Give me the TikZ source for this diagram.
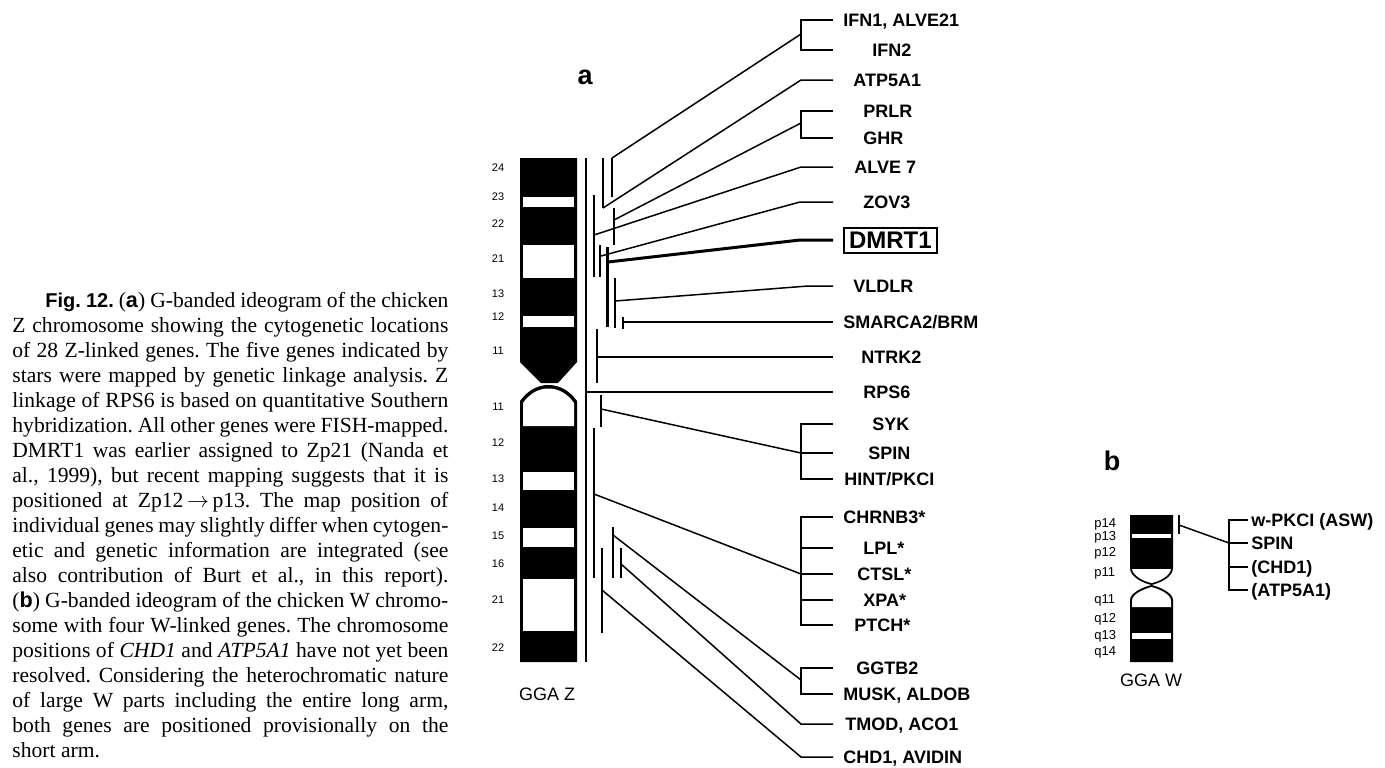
\documentclass[tikz,border=0pt]{standalone}
\usepackage{fontspec}
\setmainfont{Liberation Serif}
\setsansfont{Liberation Sans}
\frenchspacing

\newcommand{\capline}[1]{\hbox to 218pt{#1}}

\tikzset{
	gene/.style={font=\sffamily\bfseries\fontsize{9}{10}\selectfont, inner sep=0pt, anchor=west, text height=6.4pt, text depth=0pt},
	band/.style={font=\sffamily\fontsize{5.5}{6}\selectfont, inner sep=0pt},
	wband/.style={font=\sffamily\fontsize{6.5}{7}\selectfont, inner sep=0pt, anchor=west},
	chrom/.style={font=\sffamily\fontsize{9}{10}\selectfont, inner sep=0pt},
	panel/.style={font=\sffamily\bfseries\fontsize{13.5}{14}\selectfont, inner sep=0pt},
	link/.style={line width=.75pt},
}

\begin{document}
\begin{tikzpicture}[x=.5pt, y=-.5pt]
	\useasboundingbox (0,0) rectangle (1385,767);

	\node[anchor=base west, inner sep=0pt, font=\fontsize{10.8}{12.5}\selectfont] (caption) at (12,307) {\vtop{%
		\capline{\hskip16.5pt{\sffamily\bfseries\fontsize{10}{12.5}\selectfont Fig. 12.} (\textsf{\textbf{a}}) G-banded ideogram of the chicken}
		\capline{Z chromosome showing the cytogenetic locations}
		\capline{of 28 Z-linked genes. The five genes indicated by}
		\capline{stars were mapped by genetic linkage analysis. Z}
		\capline{linkage of RPS6 is based on quantitative Southern}
		\capline{hybridization. All other genes were FISH-mapped.}
		\capline{DMRT1 was earlier assigned to Zp21 (Nanda et}
		\capline{al., 1999), but recent mapping suggests that it is}
		\capline{positioned at Zp12\,$\rightarrow$\,p13. The map position of}
		\capline{individual genes may slightly differ when cytogen-}
		\capline{etic and genetic information are integrated (see}
		\capline{also contribution of Burt et al., in this report).}
		\capline{(\textsf{\textbf{b}}) G-banded ideogram of the chicken W chromo-}
		\capline{some with four W-linked genes. The chromosome}
		\capline{positions of \textit{CHD1} and \textit{ATP5A1} have not yet been}
		\capline{resolved. Considering the heterochromatic nature}
		\capline{of large W parts including the entire long arm,}
		\capline{both genes are positioned provisionally on the}
		\hbox{short arm.}}};

	% chromosome Z
	\node[panel] (pa) at (585,77) {a};
	\fill (520,158) -- (577,158) -- (577,362) -- (558,383) -- (541,383) -- (520,362) -- cycle;
	\fill (520,662) -- (520,401) .. controls (528,390) and (538,385) .. (548.5,385)
		.. controls (559,385) and (569,390) .. (577,401) -- (577,662) -- cycle;
	\foreach \top/\bot in {197/207, 245/278, 316/327, 472/490, 528/547, 579/631}
		\fill[white] (523,\top) rectangle (574,\bot);
	\fill[white] (523,426) -- (523,403) .. controls (530,393) and (539,388.5) .. (548.5,388.5)
		.. controls (558,388.5) and (567,393) .. (574,403) -- (574,426) -- cycle;
	\foreach \lab/\y [count=\i] in {24/168, 23/197, 22/224, 21/259, 13/294, 12/317, 11/351,
			11/407, 12/443, 13/479, 14/508, 15/536, 16/564, 21/600, 22/648}
		\node[band] (z\i) at (498,\y) {\lab};
	\node[chrom] (ggaz) at (547,694) {GGA Z};

	% gene positions along Z
	\draw[link] (586,158) -- (586,662);
	\foreach \x/\top/\bot in {612/158/197, 603/158/208, 614/208/245, 594/195/277, 600/245/277,
			615/278/328, 623/317/329, 597/329/383, 601/395/427, 594/428/578, 613/527/578,
			621/548/578, 602/548/633}
		\draw[link] (\x,\top) -- (\x,\bot);
	\draw[line width=1.5pt] (607,247) -- (607,327);

	\foreach \g/\x/\y/\txt in {ifna/843/20/{IFN1, ALVE21}, ifnb/872/50/IFN2, atp/853/80/ATP5A1,
			prlr/863/111/PRLR, ghr/863/138/GHR, alve/854/167/ALVE 7, zov/863/202/ZOV3,
			vld/853/286/VLDLR, sma/843/322/{SMARCA2/BRM}, ntrk/861/357/NTRK2, rps/863/392/RPS6,
			syk/872/424/SYK, spin/868/453/SPIN, hint/844/479/{HINT/PKCI},
			chrn/843/517/CHRNB3*, lpl/863/548/LPL*, ctsl/857/574/CTSL*, xpa/863/600/XPA*, ptch/854/625/PTCH*,
			ggtb/856/668/GGTB2, musk/843/694/{MUSK, ALDOB}, tmod/845/724/{TMOD, ACO1}, chd/843/757/{CHD1, AVIDIN}}
		\node[gene] (\g) at (\x,\y) {\txt};
	\node[gene, draw, line width=1pt, inner xsep=2.5pt, inner ysep=0pt, minimum height=12.5pt,
		text height=8.6pt, font=\sffamily\bfseries\fontsize{12}{13}\selectfont] (dmrt) at (843,240) {DMRT1};

	\coordinate (tip) at (833,0);
	\foreach \g/\ax/\ay/\bx in {atp/603/208/801, alve/594/235/801, zov/601/256/800, vld/615/301/808,
			tmod/621/564/801, chd/602/590/801}
		\draw[link] (\ax,\ay) -- (\bx,0 |- \g) -- (tip |- \g);
	\draw[link] (623,322) -- (tip |- sma);
	\draw[link] (597,357) -- (tip |- ntrk);
	\draw[line width=1pt] (586,392) -- (tip |- rps);
	\draw[line width=1.5pt] (608,262) -- (800,0 |- dmrt) -- (tip |- dmrt);
	\foreach \ax/\ay/\jy/\first/\last in {612/158/34/ifna/ifnb, 614/220/123/prlr/ghr,
			601/409/453/syk/hint, 594/494/574/chrn/ptch, 613/535/680/ggtb/musk}{
		\draw[link] (\ax,\ay) -- (801,\jy);
		\draw[link] (tip |- \first) -| (801,0 |- \last) -- (tip |- \last);
	}
	\foreach \g in {spin, lpl, ctsl, xpa}
		\draw[link] (801,0 |- \g) -- (tip |- \g);

	% chromosome W
	\node[panel] (pb) at (1112,461) {b};
	\fill (1130,515) -- (1173,515) -- (1173,568) .. controls (1173,577) and (1160,583) .. (1151.5,585)
		.. controls (1143,583) and (1130,577) .. (1130,568) -- cycle;
	\fill (1151.5,585) .. controls (1143,587) and (1130,593) .. (1130,600) -- (1130,662)
		-- (1173,662) -- (1173,600) .. controls (1173,593) and (1160,587) .. (1151.5,585) -- cycle;
	\fill[white] (1132,534) rectangle (1171,538);
	\fill[white] (1132,633) rectangle (1171,639);
	\fill[white] (1132,569) -- (1171,569) .. controls (1170,576) and (1159,581.5) .. (1151.5,583)
		.. controls (1144,581.5) and (1133,576) .. (1132,569) -- cycle;
	\fill[white] (1151.5,587) .. controls (1144,589) and (1132,594) .. (1132,601) -- (1132,607)
		-- (1171,607) -- (1171,601) .. controls (1171,594) and (1159,589) .. (1151.5,587) -- cycle;
	\foreach \lab/\y [count=\i] in {p14/524, p13/537, p12/553, p11/573, q11/600, q12/619, q13/636, q14/652}
		\node[wband] (w\i) at (1094,\y) {\lab};
	\node[chrom] (ggaw) at (1151,680) {GGA W};

	\foreach \g/\y/\txt in {wpk/520/{w-PKCI (ASW)}, wspin/543/SPIN, wchd/567/(CHD1), watp/590/(ATP5A1)}
		\node[gene] (\g) at (1251,\y) {\txt};
	\coordinate (wtip) at (1248,0);
	\draw[link] (1179,515) -- (1179,534);
	\draw[link] (1179,525) -- (1229,0 |- wspin);
	\draw[link] (wtip |- wpk) -| (1229,0 |- watp) -- (wtip |- watp);
	\foreach \g in {wspin, wchd}
		\draw[link] (1229,0 |- \g) -- (wtip |- \g);
\end{tikzpicture}
\end{document}
